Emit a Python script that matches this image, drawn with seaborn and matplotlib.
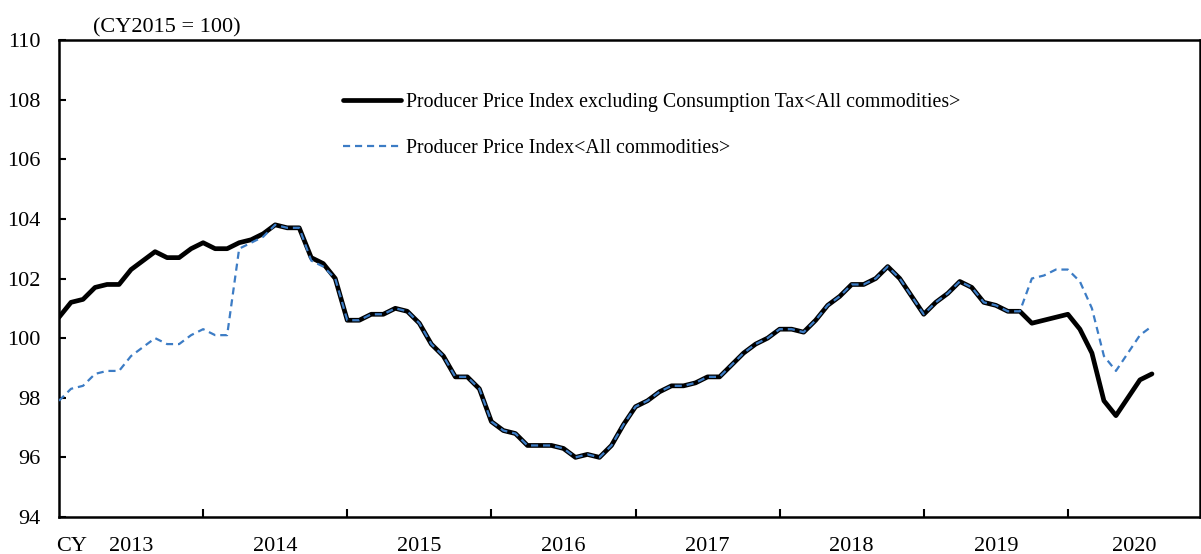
import numpy as np
import pandas as pd
import matplotlib
matplotlib.use("Agg")
import matplotlib.pyplot as plt
import seaborn as sns

# Monthly data, Jan 2013 - Aug 2020 (CY2015 = 100)
ppi_excl_tax = [
    100.7, 101.2, 101.3, 101.7, 101.8, 101.8, 102.3, 102.6, 102.9, 102.7, 102.7, 103.0,  # 2013
    103.2, 103.0, 103.0, 103.2, 103.3, 103.5, 103.8, 103.7, 103.7, 102.7, 102.5, 102.0,  # 2014
    100.6, 100.6, 100.8, 100.8, 101.0, 100.9, 100.5, 99.8, 99.4, 98.7, 98.7, 98.3,       # 2015
    97.2, 96.9, 96.8, 96.4, 96.4, 96.4, 96.3, 96.0, 96.1, 96.0, 96.4, 97.1,             # 2016
    97.7, 97.9, 98.2, 98.4, 98.4, 98.5, 98.7, 98.7, 99.1, 99.5, 99.8, 100.0,            # 2017
    100.3, 100.3, 100.2, 100.6, 101.1, 101.4, 101.8, 101.8, 102.0, 102.4, 102.0, 101.4, # 2018
    100.8, 101.2, 101.5, 101.9, 101.7, 101.2, 101.1, 100.9, 100.9, 100.5, 100.6, 100.7, # 2019
    100.8, 100.3, 99.5, 97.9, 97.4, 98.0, 98.6, 98.8,                                    # 2020
]
ppi_all = [
    97.9, 98.3, 98.4, 98.8, 98.9, 98.9, 99.4, 99.7, 100.0, 99.8, 99.8, 100.1,           # 2013
    100.3, 100.1, 100.1, 103.0, 103.2, 103.4, 103.8, 103.7, 103.7, 102.6, 102.4, 102.0,  # 2014
    100.6, 100.6, 100.8, 100.8, 101.0, 100.9, 100.5, 99.8, 99.4, 98.7, 98.7, 98.3,       # 2015
    97.2, 96.9, 96.8, 96.4, 96.4, 96.4, 96.3, 96.0, 96.1, 96.0, 96.4, 97.1,             # 2016
    97.7, 97.9, 98.2, 98.4, 98.4, 98.5, 98.7, 98.7, 99.1, 99.5, 99.8, 100.0,            # 2017
    100.3, 100.3, 100.2, 100.6, 101.1, 101.4, 101.8, 101.8, 102.0, 102.4, 102.0, 101.4, # 2018
    100.8, 101.2, 101.5, 101.9, 101.7, 101.2, 101.1, 100.9, 100.9, 102.0, 102.1, 102.3, # 2019
    102.3, 101.9, 101.0, 99.4, 98.9, 99.5, 100.1, 100.4,                                 # 2020
]
years = ["2013", "2014", "2015", "2016", "2017", "2018", "2019", "2020"]
y_ticks = [94, 96, 98, 100, 102, 104, 106, 108, 110]
label_excl = "Producer Price Index excluding Consumption Tax<All commodities>"
label_all = "Producer Price Index<All commodities>"
unit_label = "(CY2015 = 100)"

df = pd.DataFrame({
    "month": np.arange(len(ppi_excl_tax)),
    label_excl: ppi_excl_tax,
    label_all: ppi_all,
})

sns.set_style("ticks")
plt.rcParams["font.family"] = ["Liberation Serif", "DejaVu Serif"]
plt.rcParams["font.size"] = 16
for key in ["text.color", "xtick.color", "ytick.color", "axes.labelcolor", "axes.edgecolor"]:
    plt.rcParams[key] = "black"

fig = plt.figure(figsize=(12.01, 5.54), dpi=100)
ax = fig.add_axes([59 / 1201, 1 - 517 / 554, (1200 - 59) / 1201, (517 - 40) / 554])

sns.lineplot(data=df, x="month", y=label_excl, ax=ax, color="black",
             linewidth=3.4, label=label_excl, zorder=2)
sns.lineplot(data=df, x="month", y=label_all, ax=ax, color="#3C7CC5",
             linewidth=1.6, linestyle=(0, (3.2, 2.2)), label=label_all, zorder=3)

n_months = 12 * len(years)
ax.set_xlim(0, n_months - 1)
ax.set_ylim(94, 110)
ax.set_yticks(y_ticks)
ax.set_yticklabels([str(v) for v in y_ticks])
ax.set_xticks(np.arange(12, n_months, 12))
ax.set_xticklabels([])
minor_pos = [12 * i + 6 for i in range(len(years) - 1)] + [(12 * (len(years) - 1) + n_months - 1) / 2]
ax.set_xticks(minor_pos, minor=True)
ax.set_xticklabels(years, minor=True)
ax.tick_params(axis="x", which="major", direction="in", length=6, width=1.5)
ax.tick_params(axis="x", which="minor", length=0, pad=14.5, labelsize=16)
ax.tick_params(axis="y", direction="in", length=5, width=1.5, pad=13.5, labelsize=16)
ax.set_xlabel("")
ax.set_ylabel("")
for s in ax.spines.values():
    s.set_linewidth(1.8)
    s.set_color("black")

ax.annotate("CY", xy=(0, 0), xycoords="axes fraction", xytext=(-2.2, -14.5),
            textcoords="offset points", ha="left", va="top", fontsize=16)
fig.text(93 / 1201, 1 - 28 / 554, unit_label, ha="left", va="center", fontsize=16)

leg = ax.legend(loc="upper left", bbox_to_anchor=(343 / 1201, 1 - 93 / 554),
                bbox_transform=fig.transFigure, frameon=False, fontsize=14.3,
                handlelength=2.9, handletextpad=0.27, labelspacing=1.35, borderpad=0,
                borderaxespad=0)

fig.savefig("out.png", dpi=100)
